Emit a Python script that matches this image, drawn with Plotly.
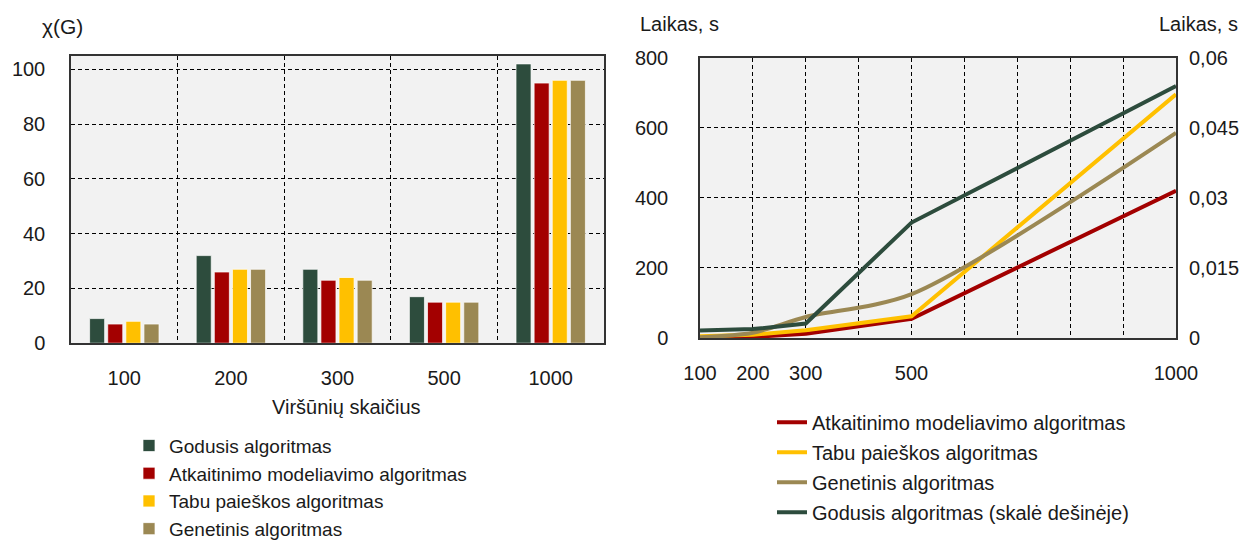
import plotly.graph_objects as go

# ---------------- data ----------------
categories = ["100", "200", "300", "500", "1000"]
bar_godusis = [9, 32, 27, 17, 102]
bar_atkaitinimo = [7, 26, 23, 15, 95]
bar_tabu = [8, 27, 24, 15, 96]
bar_genetinis = [7, 27, 23, 15, 96]

n_vertices = [100, 200, 300, 500, 1000]
time_atkaitinimo = [0, 3, 12, 55, 420]
time_tabu = [5, 9, 22, 62, 695]
time_genetinis = [2, 15, 60, 125, 585]
time_godusis = [0.0016, 0.0019, 0.0031, 0.0247, 0.0539]  # right scale

x_ticks_right = [100, 200, 300, 500, 1000]
y2_ticks = [0, 200, 400, 600, 800]
y3_tickvals = [0, 0.015, 0.03, 0.045, 0.06]
y3_ticktext = ["0", "0,015", "0,03", "0,045", "0,06"]

C_GREEN = "#2D4C3D"
C_RED = "#A30000"
C_YELLOW = "#FFC000"
C_BEIGE = "#9B8853"

FONT = "Liberation Sans, Arial, sans-serif"
TXT = "#1a1a1a"
W, H = 1255, 540

fig = go.Figure()

bar_line = dict(color="rgba(255,255,255,0.7)", width=1)
for name, vals, col in [
    ("Godusis algoritmas", bar_godusis, C_GREEN),
    ("Atkaitinimo modeliavimo algoritmas", bar_atkaitinimo, C_RED),
    ("Tabu paieškos algoritmas", bar_tabu, C_YELLOW),
    ("Genetinis algoritmas", bar_genetinis, C_BEIGE),
]:
    fig.add_trace(go.Bar(x=categories, y=vals, name=name, marker=dict(color=col, line=bar_line),
                         xaxis="x", yaxis="y", legend="legend"))

for i, (name, vals, col, shape) in enumerate([
    ("Atkaitinimo modeliavimo algoritmas", time_atkaitinimo, C_RED, "linear"),
    ("Tabu paieškos algoritmas", time_tabu, C_YELLOW, "linear"),
    ("Genetinis algoritmas", time_genetinis, C_BEIGE, "spline"),
]):
    fig.add_trace(go.Scatter(x=n_vertices, y=vals, name=name, mode="lines",
                             line=dict(color=col, width=4, shape=shape, smoothing=0.8),
                             xaxis="x2", yaxis="y2", legend="legend2", legendgroup=f"g{i}"))
fig.add_trace(go.Scatter(x=n_vertices, y=time_godusis, name="Godusis algoritmas (skalė dešinėje)",
                         mode="lines", line=dict(color=C_GREEN, width=4),
                         xaxis="x2", yaxis="y3", legend="legend2", legendgroup="g3"))

grid = dict(showgrid=True, gridcolor="#000000", gridwidth=1, griddash="4px,3px")
frame = dict(showline=True, mirror=True, linecolor="#333333", linewidth=1.5, zeroline=False)
tickf = dict(family=FONT, size=20, color=TXT)

def px_x(p):
    return p / W

def px_y(p):
    return 1 - p / H

fig.update_layout(
    width=W, height=H,
    margin=dict(l=0, r=0, t=0, b=0),
    paper_bgcolor="white",
    plot_bgcolor="#F2F2F2",
    font=dict(family=FONT, size=20, color=TXT),
    barmode="group",
    bargap=0.32,
    bargroupgap=0.17,
    xaxis=dict(domain=[px_x(63), px_x(596)], type="category", tickson="boundaries",
               ticks="", tickfont=tickf, ticklabelstandoff=16, anchor="y",
               automargin=False, **grid, **frame),
    yaxis=dict(domain=[px_y(351.5), px_y(50)], range=[0, 105], tickvals=[0, 20, 40, 60, 80, 100],
               ticks="", tickfont=tickf, ticklabelstandoff=20, anchor="x",
               automargin=False, **grid, **frame),
    xaxis2=dict(domain=[px_x(692), px_x(1168)], range=[100, 1000], tickvals=x_ticks_right,
                ticks="", tickfont=tickf, ticklabelstandoff=16, anchor="y2",
                minor=dict(tick0=100, dtick=100, showgrid=True, gridcolor="#000000",
                           gridwidth=1, griddash="4px,3px"),
                automargin=False, **grid, **frame),
    yaxis2=dict(domain=[px_y(346), px_y(52)], range=[0, 800], tickvals=y2_ticks,
                ticks="", tickfont=tickf, ticklabelstandoff=26, anchor="x2",
                automargin=False, **grid, **frame),
    yaxis3=dict(overlaying="y2", side="right", anchor="x2", range=[0, 0.06],
                tickvals=y3_tickvals, ticktext=y3_ticktext, showgrid=False, zeroline=False,
                ticks="", tickfont=tickf, ticklabelstandoff=12, automargin=False),
    legend=dict(x=px_x(121), y=px_y(439), xanchor="left", yanchor="top",
                bgcolor="rgba(0,0,0,0)", font=dict(family=FONT, size=19, color=TXT),
                tracegroupgap=0, itemclick=False),
    legend2=dict(x=px_x(764), y=px_y(414), xanchor="left", yanchor="top",
                 bgcolor="rgba(0,0,0,0)", font=dict(family=FONT, size=20, color=TXT),
                 traceorder="grouped", tracegroupgap=1, itemclick=False),
    showlegend=True,
    annotations=[
        dict(text="χ(G)", x=px_x(32), y=px_y(19), xref="paper", yref="paper",
             xanchor="left", yanchor="middle", showarrow=False, font=dict(size=21)),
        dict(text="Viršūnių skaičius", x=px_x(338), y=px_y(418), xref="paper", yref="paper",
             xanchor="center", yanchor="middle", showarrow=False, font=dict(size=20)),
        dict(text="Laikas, s", x=px_x(630), y=px_y(17), xref="paper", yref="paper",
             xanchor="left", yanchor="middle", showarrow=False, font=dict(size=20)),
        dict(text="Laikas, s", x=px_x(1149), y=px_y(17), xref="paper", yref="paper",
             xanchor="left", yanchor="middle", showarrow=False, font=dict(size=20)),
    ],
)

fig.write_html("out.html")
